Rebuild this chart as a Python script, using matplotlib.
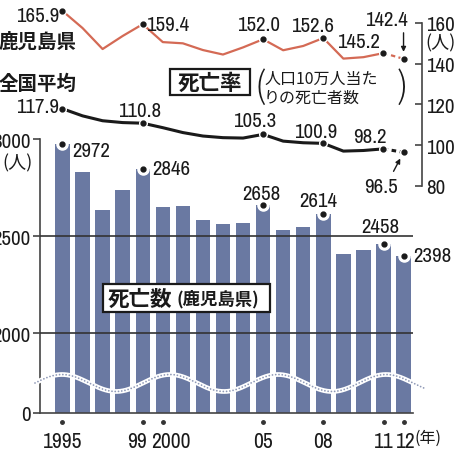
import numpy as np
import matplotlib
matplotlib.use('Agg')
import matplotlib.pyplot as plt
from matplotlib import font_manager
from matplotlib.font_manager import FontProperties
from matplotlib.patches import Rectangle
from matplotlib.transforms import ScaledTranslation

# ---------------- data ----------------
years = list(range(1995, 2013))
deaths = [2972, 2830, 2633, 2738, 2846, 2650, 2655, 2585, 2560, 2565,
          2658, 2530, 2545, 2614, 2408, 2428, 2458, 2398]
rate_kagoshima = [165.9, 157.5, 147.2, 153.6, 159.4, 150.6, 150.0, 146.7, 144.5, 148.0,
                  152.0, 146.6, 148.7, 152.6, 142.5, 143.2, 145.2, 142.4]
rate_national = [117.9, 114.4, 112.0, 111.1, 110.8, 108.6, 106.2, 104.5, 103.7, 103.5,
                 105.3, 102.0, 101.2, 100.9, 97.1, 97.4, 98.2, 96.5]
labeled_years = [1995, 1999, 2005, 2008, 2011, 2012]
year_ticks = [1995, 1999, 2000, 2005, 2008, 2011, 2012]
year_labels = ['1995', '99', '2000', '05', '08', '11', '12']
bar_ticks = [0, 2000, 2500, 3000]
bar_tick_labels = ['0', '2000', '2500', '3000']
rate_ticks = [80, 100, 120, 140, 160]
rate_tick_labels = ['80', '100', '120', '140', '160']

# ---------------- fonts ----------------
CJK = 'Noto Sans CJK JP'
cands = []
for f in font_manager.fontManager.ttflist:
    nm = f.name.lower()
    fn = f.fname.lower()
    if f.style != 'normal':
        continue
    if 'narrow' in nm or 'narrow' in fn or 'condensed' in nm or 'condensed' in fn \
            or f.stretch in ('condensed', 'semi-condensed', 'extra-condensed'):
        if 'bold' in fn and 'semibold' not in fn:
            continue
        if 'mono' in nm or 'serif' in nm and 'sans' not in nm:
            continue
        cands.append(f.fname)
cands.sort(key=lambda s: (0 if 'narrow' in s.lower() else 1,
                          0 if 'dejavusanscondensed.ttf' in s.lower() else 1, len(s)))
if cands:
    NUMP = FontProperties(fname=cands[0])
    NS = 15.0
else:
    NUMP = FontProperties(family='Liberation Sans')
    NS = 12.5


def numfp(size):
    p = NUMP.copy()
    p.set_size(size)
    return p


W, H = 457, 452
fig = plt.figure(figsize=(W / 100, H / 100), dpi=100)


def fx(x):
    return x / W


def fy(y):
    return 1 - y / H


BAR_C = '#6a79a2'
RED = '#d46a55'
INK = '#1a1a1a'

# ---------------- bar axes ----------------
k = 0.206


def fwd(v):
    v = np.asarray(v, dtype=float)
    return np.where(v < 2000, v * k, 2000 * k + (v - 2000))


def inv(u):
    u = np.asarray(u, dtype=float)
    return np.where(u < 2000 * k, u / k, u - 2000 * k + 2000)


axb = fig.add_axes([fx(40), fy(414), fx(413) - fx(40), fy(140) - fy(414)])
axb.set_yscale('function', functions=(fwd, inv))
axb.set_ylim(0, 3000)
axb.set_xlim(1993.88, 2012.47)
axb.bar(years, deaths, width=0.72, color=BAR_C, zorder=2)
for v in (2000, 2500):
    axb.axhline(v, color='#333333', lw=1.2, zorder=3)
for s in ('top', 'right'):
    axb.spines[s].set_visible(False)
for s in ('left', 'bottom'):
    axb.spines[s].set_color('#444444')
    axb.spines[s].set_linewidth(1.2)
axb.set_yticks(bar_ticks)
axb.set_yticklabels(bar_tick_labels)
axb.yaxis.set_minor_locator(matplotlib.ticker.NullLocator())
axb.tick_params(axis='y', direction='out', length=5, width=1.2, color='#444444',
                pad=2, labelcolor=INK)
for t in axb.get_yticklabels():
    t.set_fontproperties(numfp(NS))
axb.set_xticks(year_ticks)
axb.set_xticklabels(year_labels)
axb.tick_params(axis='x', length=0, pad=13, labelcolor=INK)
label_shift = {'99': -6, '2000': 8, '11': 0, '12': 2}
for t in axb.get_xticklabels():
    t.set_fontproperties(numfp(NS + 0.5))
    sh = label_shift.get(t.get_text(), 0)
    if sh:
        t.set_transform(t.get_transform() + ScaledTranslation(sh / 100, 0, fig.dpi_scale_trans))
axb.plot(year_ticks, [-0.033] * len(year_ticks), 'o', ms=2.5, color='#333333',
         transform=axb.get_xaxis_transform(), clip_on=False)

# wave break line (decoration)
wx = np.linspace(35, 425, 400)
wy = 384 - 8.5 * np.cos(2 * np.pi * (wx - 62) / 108)
axb.plot(fx(wx), fy(wy), color='white', lw=3.4, solid_capstyle='round',
         transform=fig.transFigure, clip_on=False, zorder=4)
axb.plot(fx(wx), fy(wy), color='#8f99b6', lw=1.3, linestyle=(0, (0.01, 1.8)),
         dash_capstyle='round', transform=fig.transFigure, clip_on=False, zorder=4.5)

# bar labels
bar_off = {1995: (10, -6, 'left'), 1999: (10, 0, 'left'), 2005: (-2, 12, 'center'),
           2008: (-5, 13, 'center'), 2011: (-3, 18, 'center'), 2012: (10, 0, 'left')}
for y in labeled_years:
    v = deaths[years.index(y)]
    axb.plot([y], [v], 'o', ms=8, color='white', zorder=5, clip_on=False)
    axb.plot([y], [v], 'o', ms=3.5, color=INK, zorder=6, clip_on=False)
    dx, dy, ha = bar_off[y]
    axb.annotate(str(v), (y, v), xytext=(dx, dy), textcoords='offset pixels',
                 ha=ha, va='center', fontproperties=numfp(NS), color=INK, zorder=7,
                 annotation_clip=False)

# ---------------- rate axes ----------------
axr = fig.add_axes([fx(40), fy(190), fx(422) - fx(40), fy(5) - fy(190)])
axr.set_xlim(1993.88, 2012.92)
axr.set_ylim(78.5, 169.3)
axr.patch.set_alpha(0)
for s in ('top', 'left', 'bottom'):
    axr.spines[s].set_visible(False)
axr.spines['right'].set_bounds(80, 160)
axr.spines['right'].set_color('#444444')
axr.spines['right'].set_linewidth(1.2)
axr.set_xticks([])
axr.yaxis.tick_right()
axr.set_yticks(rate_ticks)
axr.set_yticklabels(rate_tick_labels)
axr.tick_params(axis='y', direction='in', length=5, width=1.2, color='#444444',
                pad=3, labelcolor=INK)
for t in axr.get_yticklabels():
    t.set_fontproperties(numfp(NS))

axr.plot(years[:-1], rate_kagoshima[:-1], color=RED, lw=1.6, zorder=3)
axr.plot(years[-2:], rate_kagoshima[-2:], color=RED, lw=1.6, ls=(0, (2, 1.5)), zorder=3)
axr.plot(years[:-1], rate_national[:-1], color=INK, lw=2.2, zorder=3)
axr.plot(years[-2:], rate_national[-2:], color=INK, lw=2.2, ls=(0, (1.5, 1.2)), zorder=3)

kago_off = {1995: (-25, -5), 1999: (25, 0), 2005: (-5, 15), 2008: (-11, 13),
            2011: (-25, 12), 2012: (-17, 39)}
nat_off = {1995: (-25, 2), 1999: (-3, 13), 2005: (-8, 14), 2008: (-8, 12),
           2011: (-14, 12), 2012: (-23, -34)}
for series, offs in ((rate_kagoshima, kago_off), (rate_national, nat_off)):
    for y in labeled_years:
        v = series[years.index(y)]
        axr.plot([y], [v], 'o', ms=5.5, color='white', zorder=4, clip_on=False)
        axr.plot([y], [v], 'o', ms=3.5, color=INK, zorder=5, clip_on=False)
        dx, dy = offs[y]
        axr.annotate(f'{v:.1f}', (y, v), xytext=(dx, dy), textcoords='offset pixels',
                     ha='center', va='center', fontproperties=numfp(NS), color=INK,
                     zorder=6, annotation_clip=False)

# arrows for the last points
axr.annotate('', (2012, rate_kagoshima[-1]), xytext=(0, 26), textcoords='offset pixels',
             arrowprops=dict(arrowstyle='-|>', color=INK, lw=1, mutation_scale=7,
                             shrinkA=0, shrinkB=5))
axr.annotate('', (2012, rate_national[-1]), xytext=(-10, -19), textcoords='offset pixels',
             arrowprops=dict(arrowstyle='-|>', color=INK, lw=1, mutation_scale=7,
                             shrinkA=0, shrinkB=5))

# ---------------- texts ----------------
fig.text(fx(-1), fy(42), '鹿児島県', family=CJK, fontsize=14, fontweight='bold',
         color=INK, va='center', ha='left')
fig.text(fx(-1), fy(84), '全国平均', family=CJK, fontsize=14, fontweight='bold',
         color=INK, va='center', ha='left')

fig.add_artist(Rectangle((fx(170), fy(96)), fx(250) - fx(170), fy(70) - fy(96),
                         transform=fig.transFigure, fc='white', ec=INK, lw=1.6, zorder=8))
fig.text(fx(210), fy(83), '死亡率', family=CJK, fontsize=15.5, fontweight='bold',
         color=INK, ha='center', va='center', zorder=9)
fig.text(fx(254), fy(88), '(', family=CJK, fontsize=26, fontweight='light', color=INK,
         ha='left', va='center')
fig.text(fx(397), fy(88), ')', family=CJK, fontsize=26, fontweight='light', color=INK,
         ha='left', va='center')
fig.text(fx(264), fy(79), '人口10万人当た', family=CJK, fontsize=11.5, color=INK,
         ha='left', va='center')
fig.text(fx(264), fy(98), 'りの死亡者数', family=CJK, fontsize=11.5, color=INK,
         ha='left', va='center')

fig.add_artist(Rectangle((fx(103), fy(313)), fx(270) - fx(103), fy(285) - fy(313),
                         transform=fig.transFigure, fc='white', ec=INK, lw=1.6, zorder=8))
fig.text(fx(108), fy(299), '死亡数', family=CJK, fontsize=15.5, fontweight='bold',
         color=INK, ha='left', va='center', zorder=9)
fig.text(fx(177), fy(299), '(鹿児島県)', family=CJK, fontsize=12.5, fontweight='bold',
         color=INK, ha='left', va='center', zorder=9)

fig.text(fx(33), fy(163), '(人)', family=CJK, fontsize=13, color=INK, ha='right', va='center')
fig.text(fx(425), fy(43), '(人)', family=CJK, fontsize=13, color=INK, ha='left', va='center')
fig.text(fx(415), fy(438), '(年)', family=CJK, fontsize=11.5, color=INK, ha='left', va='center')

fig.savefig('out.png', dpi=100)
